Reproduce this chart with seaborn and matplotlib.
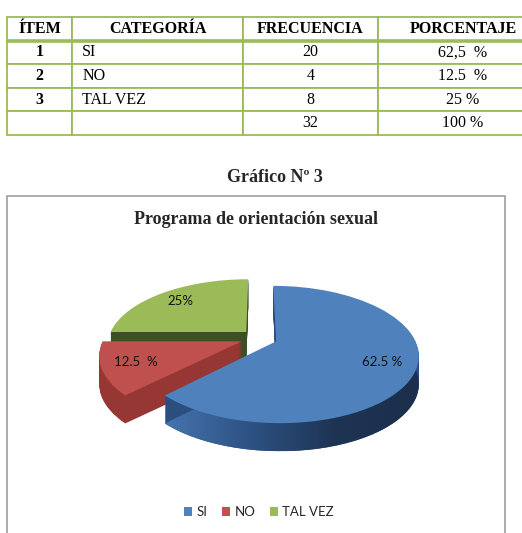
import numpy as np
import matplotlib
matplotlib.use("Agg")
import matplotlib.pyplot as plt
import seaborn as sns
from matplotlib import transforms as mtransforms
from matplotlib.patches import Rectangle
from matplotlib.colors import LinearSegmentedColormap

# ---------------- data ----------------
headers = ["ÍTEM", "CATEGORÍA", "FRECUENCIA", "PORCENTAJE"]
items = ["1", "2", "3", ""]
categorias = ["SI", "NO", "TAL VEZ", ""]
frecuencias = [20, 4, 8, 32]
porcentajes_tabla = ["62,5  %", "12.5  %", "25 %", "100 %"]

caption = "Gráfico Nº 3"
chart_title = "Programa de orientación sexual"
pie_labels = ["SI", "NO", "TAL VEZ"]
pie_freq = [20, 4, 8]
pie_text = ["62.5 %", "12.5  %", "25%"]

# ---------------- style ----------------
sns.set_theme(style="white")
plt.rcParams["font.family"] = ["Liberation Serif", "DejaVu Sans"]

top_colors = sns.color_palette(["#4F81BD", "#C0504D", "#9BBB59"])
side_colors = sns.color_palette(["#2C4E7E", "#963734", "#3F4F24"])
grid_green = "#9BBB59"

W, H = 522, 533
fig = plt.figure(figsize=(W / 100, H / 100), dpi=100)
fig.patch.set_facecolor("white")


def px_rect(x0, y0, x1, y1):
    return [x0 / W, 1 - y1 / H, (x1 - x0) / W, (y1 - y0) / H]


# ---------------- table ----------------
axt = fig.add_axes(px_rect(7, 17, 548, 135))
axt.set_axis_off()
cell_text = [[items[i], categorias[i], str(frecuencias[i]), porcentajes_tabla[i]]
             for i in range(len(items))]
widths = np.array([65, 171, 135, 170], dtype=float)
tbl = axt.table(cellText=cell_text, colLabels=headers, colWidths=list(widths / widths.sum()),
                bbox=[0, 0, 1, 1], cellLoc="center")
tbl.auto_set_font_size(False)
for (r, c), cell in tbl.get_celld().items():
    cell.set_edgecolor(grid_green)
    cell.set_linewidth(1.3)
    cell.set_facecolor("white")
    t = cell.get_text()
    t.set_fontfamily("Liberation Serif")
    t.set_fontsize(11.5)
    t.set_color("black")
    if r == 0 or c == 0:
        t.set_fontweight("bold")
    if c == 1 and r > 0:
        t.set_ha("left")
        cell.PAD = 0.06
axt.axhline(0.8, color=grid_green, lw=2.6, zorder=5)

# ---------------- caption / frame / title ----------------
fig.text(275 / W, 1 - 177 / H, caption, ha="center", va="center",
         fontfamily="Liberation Serif", fontweight="bold", fontsize=13)
fig.add_artist(Rectangle((7 / W, -0.05), (505 - 7) / W, (1 - 196 / H) + 0.05,
                         transform=fig.transFigure, fill=False,
                         edgecolor="#A6A6A6", lw=1.3))
fig.text(256 / W, 1 - 219 / H, chart_title, ha="center", va="center",
         fontfamily="Liberation Serif", fontweight="bold", fontsize=13)


# ---------------- 3D pie ----------------
class PerspectiveTransform(mtransforms.Transform):
    input_dims = 2
    output_dims = 2
    is_separable = False
    has_inverse = False

    def __init__(self, k, b):
        super().__init__()
        self.k = k
        self.b = b

    def transform_non_affine(self, values):
        v = np.asarray(values, dtype=float)
        x = v[..., 0]
        y = v[..., 1]
        s = 1.0 / (1.0 + self.k * y)
        return np.stack([x * s, y * self.b * s], axis=-1)


R = 138.0
cx, cy = 259.0, 338.0
ax0, ay0, ax1, ay1 = 20, 240, 500, 480
axp = fig.add_axes(px_rect(ax0, ay0, ax1, ay1))
xlim = ((ax0 - cx) / R, (ax1 - cx) / R)
ylim = (-(ay1 - cy) / R, (cy - ay0) / R)

persp = PerspectiveTransform(k=0.19, b=0.47)
explode = [0.133] * 3
base_z = {0: 3, 1: 2, 2: 1}
depth = 28

blue_bottom = None
for k in range(depth, 0, -1):
    ws, _ = axp.pie(pie_freq, explode=explode, colors=side_colors, startangle=90,
                    counterclock=False, wedgeprops=dict(linewidth=0))
    off = mtransforms.Affine2D().translate(0, -k)
    for i, w in enumerate(ws):
        w.set_transform(persp + axp.transData + off)
        w.set_zorder(base_z[i] + 0.1)
        if i == 0 and k == depth:
            blue_bottom = w

wedges, _, autotexts = axp.pie(pie_freq, explode=explode, colors=top_colors, startangle=90,
                               counterclock=False, autopct=lambda p: "", pctdistance=0.77,
                               wedgeprops=dict(linewidth=0))
for i, w in enumerate(wedges):
    w.set_transform(persp + axp.transData)
    w.set_zorder(base_z[i] + 0.5)
for i, t in enumerate(autotexts):
    t.set_text(pie_text[i])
    t.set_transform(persp + axp.transData)
    t.set_zorder(10)
    t.set_fontfamily(["Lato", "DejaVu Sans"])
    t.set_fontsize(9.5)
    t.set_color("#111111")

axp.set_aspect("auto")
axp.set_xlim(*xlim)
axp.set_ylim(*ylim)
axp.set_axis_off()

# gradient shading of the blue side
tp = blue_bottom.get_transform().transform_path(blue_bottom.get_path())
bb = tp.get_extents()
inv = axp.transData.inverted()
(gx0, gy0), (gx1, gy1) = inv.transform([[bb.x0, bb.y0], [bb.x1, bb.y1]])
cmap = LinearSegmentedColormap.from_list("side", ["#4673AD", "#2D5283", "#1E3453", "#1B2F4C"])
grad = np.linspace(0, 1, 256).reshape(1, -1)
im = axp.imshow(grad, cmap=cmap, extent=[gx0, gx1, gy0, gy1], aspect="auto",
                zorder=base_z[0] + 0.3, interpolation="bilinear")
im.set_clip_path(blue_bottom)
axp.set_aspect("auto")
axp.set_xlim(*xlim)
axp.set_ylim(*ylim)

# legend
fig.legend(wedges, pie_labels, loc="center", bbox_to_anchor=(259 / W, 1 - 512 / H),
           ncol=3, frameon=False, handlelength=0.6, handleheight=0.6,
           handletextpad=0.35, columnspacing=1.1,
           prop=dict(family=["Lato", "DejaVu Sans"], size=9.5))

fig.savefig("out.png", dpi=100, facecolor="white")
